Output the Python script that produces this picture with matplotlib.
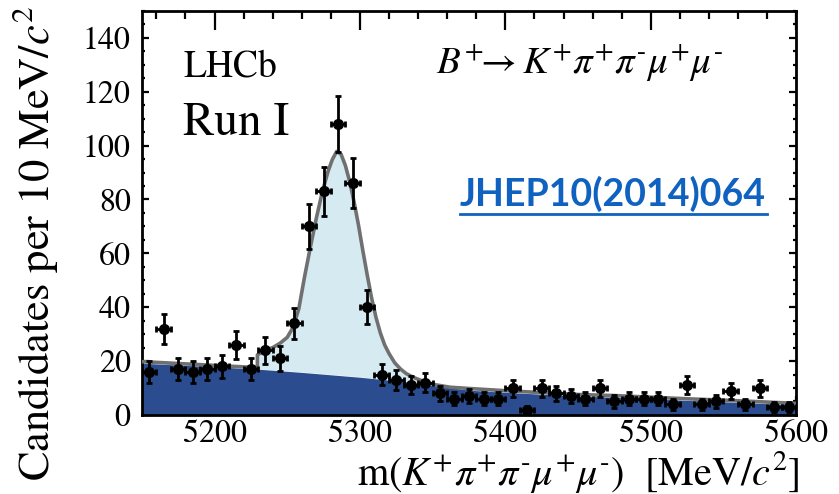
import numpy as np
import matplotlib
matplotlib.use("Agg")
import matplotlib.pyplot as plt
from matplotlib.ticker import MultipleLocator

plt.rcParams['font.family'] = 'STIXGeneral'
plt.rcParams['mathtext.fontset'] = 'stix'

# binned candidates, 10 MeV bins
mass = np.arange(5155, 5600, 10)
counts = np.array([16, 32, 17, 16, 17, 18, 26, 17, 24, 21,
                   34, 70, 83, 108, 86, 40, 15, 13, 11, 12,
                   8, 6, 7, 6, 6, 10, 2, 10, 8, 7,
                   6, 10, 5, 6, 6, 6, 4, 11, 4, 5,
                   9, 4, 10, 3, 3])

# total fit (grey line)
fit_m = [5150, 5175, 5200, 5225, 5229.5, 5229.5, 5235, 5240, 5245, 5250,
         5254, 5258, 5262, 5266, 5270, 5274, 5278, 5281, 5284, 5287,
         5290, 5293, 5296, 5299, 5302, 5305, 5308, 5311, 5314, 5317,
         5320, 5324, 5328, 5332, 5337, 5344, 5352, 5362, 5376, 5400,
         5425, 5450, 5475, 5500, 5525, 5550, 5575, 5600]
fit_tot = [19.8, 19.1, 18.4, 17.7, 17.6, 22.3, 24.0, 25.0, 26.6, 28.8,
           32.5, 39.5, 51.5, 62.5, 73.0, 82.5, 90.3, 94.8, 97.8, 96.8,
           92.6, 86.5, 79.0, 70.5, 61.0, 52.0, 43.5, 36.3, 30.5, 26.0,
           22.8, 19.3, 17.0, 15.3, 13.9, 12.4, 11.2, 10.3, 9.8, 9.0,
           8.3, 7.6, 7.2, 6.6, 6.0, 5.5, 4.9, 4.3]

# combinatorial background component
bkg_m = [5150, 5200, 5230, 5260, 5300, 5330, 5350, 5375, 5400, 5425,
         5450, 5475, 5500, 5525, 5550, 5575, 5600]
bkg = [19.2, 17.9, 17.0, 15.8, 14.0, 12.4, 11.0, 9.2, 8.4, 7.7,
       7.0, 6.6, 6.0, 5.4, 4.9, 4.3, 3.7]

fig = plt.figure(figsize=(8.39, 4.94), dpi=100)
ax = fig.add_axes([0.169, 0.160, 0.780, 0.818])

# light blue: everything above the combinatorial part
ax.fill(np.r_[fit_m, bkg_m[::-1]], np.r_[fit_tot, bkg[::-1]],
        color='#d6eaf1', lw=0, zorder=1)
ax.fill_between(bkg_m, 0, bkg, color='#2b4c8e', lw=0, zorder=2)
ax.plot(fit_m, fit_tot, color='#707070', lw=2.6, zorder=3)

ax.errorbar(mass, counts, xerr=5, yerr=np.sqrt(counts), fmt='o',
            color='black', ms=7, elinewidth=2, capsize=2.5, capthick=2,
            zorder=5)

ax.set_xlim(5150, 5600)
ax.set_ylim(0, 150)
ax.xaxis.set_major_locator(MultipleLocator(100))
ax.xaxis.set_minor_locator(MultipleLocator(20))
ax.yaxis.set_major_locator(MultipleLocator(20))
ax.yaxis.set_minor_locator(MultipleLocator(5))
ax.tick_params(axis='x', which='both', direction='in', top=True, width=1.6,
               labelsize=23, pad=3)
ax.tick_params(axis='x', which='major', length=14)
ax.tick_params(axis='x', which='minor', length=6)
ax.tick_params(axis='y', which='both', direction='in', right=True, width=1.6,
               labelsize=23, pad=8)
ax.tick_params(axis='y', which='major', length=5)
ax.tick_params(axis='y', which='minor', length=2.5)
for s in ax.spines.values():
    s.set_linewidth(2)

ax.text(0.063, 0.86, 'LHCb', transform=ax.transAxes, fontsize=27,
        va='center', ha='left')
ax.text(0.063, 0.72, 'Run I', transform=ax.transAxes, fontsize=34,
        va='center', ha='left')
ax.text(0.45, 0.873,
        r'$B^{+}\!\!\rightarrow K^{+}\pi^{+}\pi^{\text{-}}\mu^{+}\mu^{\text{-}}$',
        transform=ax.transAxes, fontsize=28, va='center', ha='left')
ax.text(0.72, 0.548, 'JHEP10(2014)064', transform=ax.transAxes,
        fontsize=27, fontweight='bold', family='Lato', color='#0f62c0',
        va='center', ha='center')
ax.plot([0.487, 0.955], [0.4975, 0.4975], transform=ax.transAxes,
        color='#0f62c0', lw=2, zorder=6)

ax.text(1.006, -0.142,
        r'm$(K^{+}\pi^{+}\pi^{\text{-}}\mu^{+}\mu^{\text{-}})$  [MeV/$c^2$]',
        transform=ax.transAxes, fontsize=29, ha='right', va='center')
fig.text(0.042, 0.508, r'Candidates per 10 MeV/$c^2$', rotation=90,
         fontsize=32, ha='center', va='center')

fig.savefig('out.png', dpi=100)
